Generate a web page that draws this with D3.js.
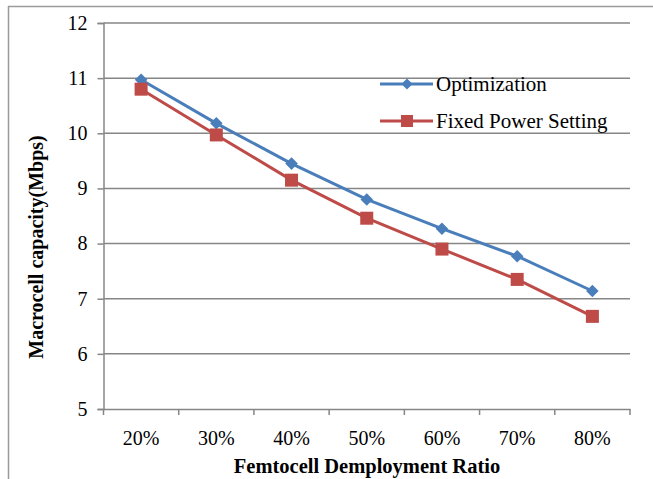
<!DOCTYPE html>
<html><head><meta charset="utf-8">
<script src="https://cdn.jsdelivr.net/npm/d3@7"></script>
<style>html,body{margin:0;padding:0;background:#fff;}svg{display:block;}
svg text{font-family:"Liberation Serif","DejaVu Serif",serif;}</style>
</head><body>
<script>
const categories = ["20%","30%","40%","50%","60%","70%","80%"];
const optimization = [10.97, 10.18, 9.45, 8.80, 8.27, 7.77, 7.14];
const fixedPower = [10.80, 9.97, 9.15, 8.46, 7.90, 7.35, 6.68];
const yTicks = [5,6,7,8,9,10,11,12];
const seriesNames = ["Optimization","Fixed Power Setting"];

const W=653,H=479;
const svg=d3.select("body").append("svg").attr("width",W).attr("height",H);
const font='"Liberation Serif","DejaVu Serif",serif';
// outer frame
svg.append("line").attr("x1",8).attr("x2",W).attr("y1",6.5).attr("y2",6.5).attr("stroke","#9a9a9a").attr("stroke-width",1.5);
svg.append("line").attr("x1",8.5).attr("x2",8.5).attr("y1",6).attr("y2",H).attr("stroke","#9a9a9a").attr("stroke-width",1.5);

const L=103.5,R=630,T=23,B=409;
const x=d3.scaleBand().domain(categories).range([L,R]);
const y=d3.scaleLinear().domain([5,12]).range([B,T]);

// gridlines
svg.append("g").selectAll("line").data(yTicks.filter(d=>d>5)).join("line")
 .attr("x1",L).attr("x2",R).attr("y1",d=>y(d)).attr("y2",d=>y(d))
 .attr("stroke","#868686").attr("stroke-width",1.5);

// y axis
const ya=svg.append("g").attr("transform",`translate(${L},0)`)
 .call(d3.axisLeft(y).tickValues(yTicks).tickSize(6).tickPadding(10).tickFormat(d3.format("d")));
ya.attr("font-family",null).attr("font-size",null);
ya.select(".domain").attr("stroke","#868686").attr("stroke-width",1.5);
ya.selectAll(".tick line").attr("stroke","#868686").attr("stroke-width",1.5);
ya.selectAll("text").style("font-family",font).style("font-size","20px").attr("fill","#000");

// x axis
const xa=svg.append("g").attr("transform",`translate(0,${B})`)
 .call(d3.axisBottom(x).tickSize(0).tickPadding(22));
xa.attr("font-family",null).attr("font-size",null);
xa.select(".domain").attr("stroke","#868686").attr("stroke-width",1.5);
xa.selectAll(".tick line").remove();
xa.selectAll("text").style("font-family",font).style("font-size","20px").attr("fill","#000");
const bounds=categories.map(c=>x(c)).concat([x(categories[categories.length-1])+x.bandwidth()]);
svg.append("g").selectAll("line").data(bounds).join("line")
 .attr("x1",d=>d).attr("x2",d=>d).attr("y1",B).attr("y2",B+6)
 .attr("stroke","#868686").attr("stroke-width",1.5);

const cx=c=>x(c)+x.bandwidth()/2;
const line=d3.line().x((d,i)=>cx(categories[i])).y(d=>y(d));
const colors=["#4a7ebb","#be4b48"];
[optimization,fixedPower].forEach((s,k)=>{
 svg.append("path").datum(s).attr("d",line).attr("fill","none").attr("stroke",colors[k]).attr("stroke-width",3);
});
// markers
svg.append("g").selectAll("path").data(optimization).join("path")
 .attr("transform",(d,i)=>`translate(${cx(categories[i])},${y(d)})`)
 .attr("d",d3.symbol(d3.symbolDiamond2,100)).attr("fill",colors[0]);
svg.append("g").selectAll("rect").data(fixedPower).join("rect")
 .attr("x",(d,i)=>cx(categories[i])-6.5).attr("y",d=>y(d)-6.5).attr("width",13).attr("height",13).attr("fill",colors[1]);

// legend
const lg=svg.append("g");
seriesNames.forEach((n,k)=>{
 const ly=[84,121][k];
 lg.append("line").attr("x1",380).attr("x2",433).attr("y1",ly).attr("y2",ly).attr("stroke",colors[k]).attr("stroke-width",3);
 if(k===0) lg.append("path").attr("transform",`translate(407,${ly})`).attr("d",d3.symbol(d3.symbolDiamond2,80)).attr("fill",colors[0]);
 else lg.append("rect").attr("x",401).attr("y",ly-6).attr("width",12).attr("height",12).attr("fill",colors[1]);
 lg.append("text").attr("x",436).attr("y",ly+7).text(n).style("font-family",font).style("font-size","21px").attr("fill","#000");
});

// titles
svg.append("text").attr("x",367).attr("y",473).attr("text-anchor","middle").style("font-family",font)
 .style("font-weight","bold").style("font-size","20.5px").text("Femtocell Demployment Ratio");
svg.append("text").attr("transform","translate(43,247) rotate(-90)").attr("text-anchor","middle").style("font-family",font)
 .style("font-weight","bold").style("font-size","20px").text("Macrocell capacity(Mbps)");
</script>
</body></html>
